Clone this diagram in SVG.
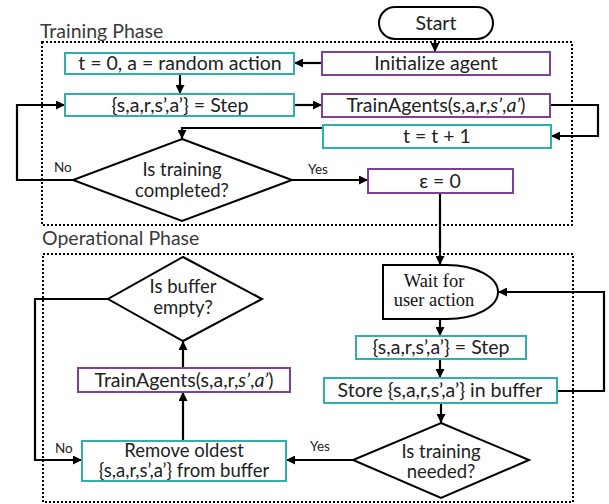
<svg xmlns="http://www.w3.org/2000/svg" width="609" height="504" viewBox="0 0 609 504">
  <defs>
    <marker id="arrow" viewBox="0 0 10 10" refX="10" refY="5" markerWidth="9" markerHeight="9" markerUnits="userSpaceOnUse" orient="auto">
      <path d="M0,0 L10,5 L0,10 z" fill="#000"/>
    </marker>
    <style>
      .phase { fill: none; stroke: #000; stroke-width: 2; stroke-dasharray: 2 2; }
      .teal { fill: #fff; stroke: #2fb0ac; stroke-width: 2; }
      .purple { fill: #fff; stroke: #7f3f98; stroke-width: 2; }
      .shape { fill: #fff; stroke: #000; stroke-width: 2; }
      .line { fill: none; stroke: #000; stroke-width: 2.2; marker-end: url(#arrow); }
      text { font-family: Lato, "Liberation Sans", sans-serif; font-size: 19.5px; fill: #222; }
      .c { text-anchor: middle; }
      .two { font-size: 18.5px; }
      .title { font-size: 19.5px; fill: #3a3a3a; }
      .lbl { font-size: 13.5px; fill: #222; }
    </style>
  </defs>

  <!-- phase frames -->
  <rect class="phase" x="42" y="42" width="530" height="183"/>
  <text class="title" x="40" y="38">Training Phase</text>
  <rect class="phase" x="43" y="254" width="530" height="248"/>
  <text class="title" x="42" y="245">Operational Phase</text>

  <!-- connectors -->
  <g id="connectors">
    <path class="line" d="M435,39 V52"/>
    <path class="line" d="M322,63 H294"/>
    <path class="line" d="M180,74 V94"/>
    <path class="line" d="M294,105 H322"/>
    <path class="line" d="M550,105 H598 V136 H551"/>
    <path class="line" d="M323,128 H182 V139"/>
    <path class="line" d="M73,180 H17 V105 H65"/>
    <path class="line" d="M292,180 H368"/>
    <path class="line" d="M440,193 V265"/>
    <path class="line" d="M440,319 V336"/>
    <path class="line" d="M440,359 V378"/>
    <path class="line" d="M441,403 V423"/>
    <path class="line" d="M557,391 H604 V292 H498"/>
    <path class="line" d="M353,460 H286"/>
    <path class="line" d="M183,441 V392"/>
    <path class="line" d="M183,368 V341"/>
    <path class="line" d="M108,299 H35 V460 H82"/>
    <text class="lbl" x="54" y="172">No</text>
    <text class="lbl" x="308" y="174">Yes</text>
    <text class="lbl" x="310" y="451">Yes</text>
    <text class="lbl" x="55" y="453">No</text>
  </g>

  <g id="start">
    <rect class="shape" x="379" y="7" width="114" height="32" rx="16"/>
    <text class="c" x="436" y="30">Start</text>
  </g>

  <g id="init-agent">
    <rect class="purple" x="322" y="52" width="228" height="23"/>
    <text class="c" x="436" y="70">Initialize agent</text>
  </g>

  <g id="init-state">
    <rect class="teal" x="65" y="53" width="229" height="21"/>
    <text class="c" x="180" y="70">t = 0, a = random action</text>
  </g>

  <g id="step-train">
    <rect class="teal" x="65" y="94" width="229" height="22"/>
    <text class="c" x="180" y="112">{s,a,r,s’,a’} = Step</text>
  </g>

  <g id="train-agents">
    <rect class="purple" x="322" y="94" width="228" height="23"/>
    <text class="c" x="436" y="112">TrainAgents(s,a,r,<tspan font-style="italic">s’</tspan>,<tspan font-style="italic">a’</tspan>)</text>
  </g>

  <g id="increment">
    <rect class="teal" x="323" y="125" width="228" height="23"/>
    <text class="c" x="437" y="143">t = t + 1</text>
  </g>

  <g id="training-done">
    <polygon class="shape" points="182,139 292,180 182,221 73,180"/>
    <text class="c two" x="182" y="176">Is training</text>
    <text class="c two" x="182" y="197">completed?</text>
  </g>

  <g id="epsilon">
    <rect class="purple" x="368" y="169" width="145" height="24"/>
    <text class="c" x="440" y="188">ε = 0</text>
  </g>

  <g id="wait">
    <path class="shape" d="M383,265 H447 A51,27 0 0 1 447,319 H383 Z"/>
    <text style="font-family: 'Liberation Serif', 'DejaVu Serif', serif; font-size: 18.5px; fill: #111;" text-anchor="middle" x="434" y="287">Wait for</text>
    <text style="font-family: 'Liberation Serif', 'DejaVu Serif', serif; font-size: 18.5px; fill: #111;" text-anchor="middle" x="434" y="306">user action</text>
  </g>

  <g id="step-op">
    <rect class="teal" x="356" y="336" width="170" height="23"/>
    <text class="c" x="441" y="354">{s,a,r,s’,a’} = Step</text>
  </g>

  <g id="store">
    <rect class="teal" x="324" y="378" width="233" height="25"/>
    <text class="c" x="440" y="397">Store {s,a,r,s’,a’} in buffer</text>
  </g>

  <g id="training-needed">
    <polygon class="shape" points="441,423 529,460 441,498 353,460"/>
    <text class="c two" x="441" y="458">Is training</text>
    <text class="c two" x="441" y="478">needed?</text>
  </g>

  <g id="remove-oldest">
    <rect class="teal" x="82" y="441" width="204" height="40"/>
    <text class="c two" x="184" y="457">Remove oldest</text>
    <text class="c two" x="184" y="477">{s,a,r,s’,a’} from buffer</text>
  </g>

  <g id="train-agents-op">
    <rect class="purple" x="78" y="368" width="212" height="24"/>
    <text class="c" x="184" y="387">TrainAgents(s,a,r,<tspan font-style="italic">s’</tspan>,<tspan font-style="italic">a’</tspan>)</text>
  </g>

  <g id="buffer-empty">
    <polygon class="shape" points="183,257 262,299 183,341 108,299"/>
    <text class="c two" x="183" y="293">Is buffer</text>
    <text class="c two" x="183" y="314">empty?</text>
  </g>
</svg>
